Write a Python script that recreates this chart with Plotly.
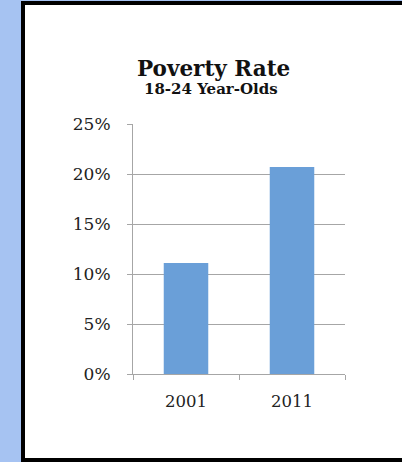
import plotly.graph_objects as go

years = ["2001", "2011"]
poverty_rate = [11.1, 20.7]
y_ticks = [0, 5, 10, 15, 20, 25]
y_tick_labels = ["0%", "5%", "10%", "15%", "20%", "25%"]
title_text = "Poverty Rate"
subtitle_text = "18-24 Year-Olds"

W, H = 402, 462
L, R, T, B = 133, 57, 124, 88
PW, PH = W - L - R, H - T - B

def px_x(px):
    return (px - L) / PW

def px_y(py):
    return (H - B - py) / PH

fig = go.Figure()
fig.add_trace(go.Bar(
    x=years, y=poverty_rate,
    marker=dict(color="#6a9fd8", line=dict(width=0)),
    width=0.42,
))

serif = "DejaVu Serif"

fig.update_layout(
    width=W, height=H,
    margin=dict(l=L, r=R, t=T, b=B, pad=0),
    paper_bgcolor="#a6c3f2",
    plot_bgcolor="white",
    showlegend=False,
    xaxis=dict(
        showgrid=False, showline=True, linecolor="#a6a6a6", linewidth=1,
        ticks="outside", ticklen=5, tickcolor="#a6a6a6", tickson="boundaries",
        tickfont=dict(family=serif, size=16.5, color="#222"),
        ticklabelstandoff=12,
    ),
    yaxis=dict(
        range=[0, 25], tickvals=y_ticks, ticktext=y_tick_labels,
        showgrid=True, gridcolor="#a6a6a6", gridwidth=1,
        showline=True, linecolor="#a6a6a6", linewidth=1,
        ticks="outside", ticklen=5, tickcolor="#a6a6a6",
        tickfont=dict(family=serif, size=17, color="#222"),
        ticklabelstandoff=13, zeroline=False,
    ),
    shapes=[
        dict(type="rect", xref="paper", yref="paper", layer="below",
             x0=px_x(23), x1=px_x(420), y0=px_y(460), y1=px_y(3),
             fillcolor="white", line=dict(color="black", width=4)),
    ],
    annotations=[
        dict(text="<b>" + title_text + "</b>", xref="paper", yref="paper",
             x=px_x(213.5), y=px_y(68), xanchor="center", yanchor="middle",
             showarrow=False, font=dict(family=serif, size=21.5, color="#111")),
        dict(text="<b>" + subtitle_text + "</b>", xref="paper", yref="paper",
             x=px_x(210.5), y=px_y(89), xanchor="center", yanchor="middle",
             showarrow=False, font=dict(family=serif, size=15, color="#111")),
    ],
)

fig.write_html(
    "out.html",
    config={"displayModeBar": False},
    post_script="document.body.style.margin='0';document.body.style.overflow='hidden';",
)
